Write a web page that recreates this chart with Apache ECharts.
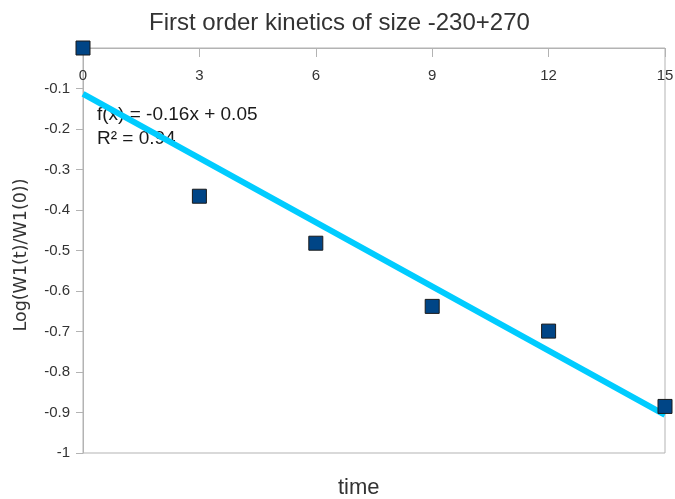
<!DOCTYPE html>
<html>
<head>
<meta charset="utf-8">
<script src="https://cdn.jsdelivr.net/npm/echarts@6/dist/echarts.min.js"></script>
<style>html,body{margin:0;padding:0;background:#fff}#c{width:675px;height:499px}</style>
</head>
<body>
<div id="c"></div>
<script>
var timeValues = [0, 3, 6, 9, 12, 15];
var logRatio = [0, -0.366, -0.482, -0.638, -0.699, -0.885];
var trendX = [0, 15];
var trendY = [-0.113, -0.906];
var xTicks = [0, 3, 6, 9, 12, 15];
var yTicks = [0, -0.1, -0.2, -0.3, -0.4, -0.5, -0.6, -0.7, -0.8, -0.9, -1];

var font = '"Liberation Sans", Arial, sans-serif';
var chart = echarts.init(document.getElementById('c'));
chart.setOption({
  animation: false,
  backgroundColor: '#fff',
  title: [{
    text: 'First order kinetics of size -230+270',
    left: 144, top: 6,
    textStyle: {fontFamily: font, fontSize: 24, fontWeight: 'normal', color: '#333'}
  }, {
    text: 'time',
    left: 333, top: 472,
    textStyle: {fontFamily: font, fontSize: 22, fontWeight: 'normal', color: '#333'}
  }],
  grid: {left: 83, right: 10, top: 48, bottom: 46, show: true, borderColor: '#b3b3b3', borderWidth: 1, outerBoundsMode: 'none', containLabel: false},
  xAxis: {
    type: 'value', min: 0, max: 15, interval: 3, position: 'top',
    axisLine: {show: true, lineStyle: {color: '#b3b3b3'}},
    axisTick: {show: true, inside: true, length: 9, lineStyle: {color: '#b3b3b3'}},
    axisLabel: {inside: true, margin: 20, fontFamily: font, fontSize: 15, color: '#333'},
    splitLine: {show: false}
  },
  yAxis: {
    type: 'value', min: -1, max: 0, interval: 0.1,
    axisLine: {show: true, lineStyle: {color: '#b3b3b3'}},
    axisTick: {show: true, length: 7, lineStyle: {color: '#b3b3b3'}},
    axisLabel: {margin: 13, fontFamily: font, fontSize: 15, color: '#333',
      formatter: function (v) { if (Math.abs(v) < 1e-9) return ''; return (Math.round(v * 10) / 10).toString(); }},
    splitLine: {show: false}
  },
  graphic: [{
    type: 'text', left: 97, top: 103,
    style: {text: 'f(x) = -0.16x + 0.05\nR² = 0.94', fontFamily: font, fontSize: 19, fill: '#1a1a1a', lineHeight: 24}
  }, {
    type: 'text', x: 21, y: 255, rotation: Math.PI / 2,
    style: {text: 'Log(W1(t)/W1(0))', fontFamily: '"DejaVu Sans", sans-serif', fontSize: 17.5, fill: '#333', align: 'center', verticalAlign: 'middle'}
  }],
  series: [{
    type: 'line',
    data: trendX.map(function (x, i) { return [x, trendY[i]]; }),
    symbol: 'none',
    lineStyle: {color: '#00ccff', width: 6},
    z: 2
  }, {
    type: 'scatter',
    data: timeValues.map(function (x, i) { return [x, logRatio[i]]; }),
    symbol: 'rect', symbolSize: 14, clip: false,
    itemStyle: {color: '#004586', borderColor: '#1a1a1a', borderWidth: 1, opacity: 1},
    z: 3
  }]
});
</script>
</body>
</html>
